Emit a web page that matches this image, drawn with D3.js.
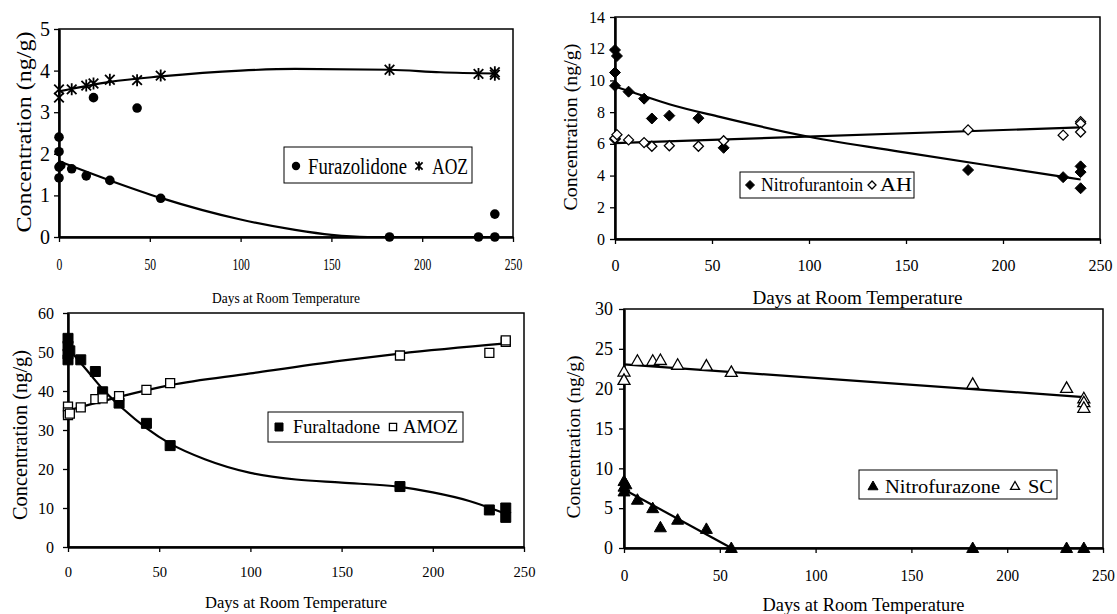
<!DOCTYPE html>
<html>
<head>
<meta charset="utf-8">
<script src="https://cdn.jsdelivr.net/npm/d3@7"></script>
<style>
  body { margin: 0; background: #fff; }
  svg text { font-family: "Liberation Serif", "Times New Roman", serif !important; fill: #000; }
</style>
</head>
<body>
<svg id="chart" width="1117" height="614"></svg>
<script>
const DAY_TICKS = [0, 50, 100, 150, 200, 250];

// panel 1 : furazolidone / AOZ   [day, ng/g]
const furazolidone = [[0,2.4],[0,2.05],[0,1.68],[0,1.42],[1,1.72],[7,1.64],[15,1.47],[19,3.35],[28,1.36],[43,3.1],[56,0.93],[182,0],[231,0],[240,0],[240,0.55]];
const aoz = [[0,3.55],[0,3.35],[7,3.55],[15,3.64],[19,3.69],[28,3.78],[43,3.77],[56,3.88],[182,4.02],[231,3.92],[240,3.96],[240,3.9]];
const furazolidoneFit = [[0,1.82],[28,1.36],[56,0.94],[100,0.42],[130,0.17],[150,0.05],[170,0],[240,0]];
const aozFit = [[0,3.5],[28,3.73],[56,3.86],[100,4.0],[130,4.04],[182,4.02],[210,3.96],[240,3.93]];

// panel 2 : nitrofurantoin / AH
const nitrofurantoin = [[0,11.92],[1,11.54],[0,10.5],[0,9.66],[0,6.3],[7,9.29],[15,8.85],[19,7.6],[28,7.78],[43,7.62],[56,5.75],[182,4.35],[231,3.9],[240,4.58],[240,4.22],[240,3.2]];
const ah = [[0,6.35],[1,6.58],[7,6.25],[15,6.08],[19,5.85],[28,5.88],[43,5.85],[56,6.2],[182,6.88],[231,6.55],[240,7.4],[240,7.28],[240,6.75]];
const nitrofurantoinFit = [[0,9.62],[14,9.05],[28,8.5],[54,7.7],[100,6.45],[150,5.45],[200,4.5],[240,3.75]];
const ahFit = [[0,6.05],[240,7.04]];

// panel 3 : furaltadone / AMOZ
const furaltadone = [[0,53.5],[0,51.5],[0,49.5],[0,48],[1,50.3],[7,48],[15,45],[19,39.8],[28,36.9],[43,31.7],[56,26],[182,15.5],[231,9.5],[240,10],[240,7.6]];
const amoz = [[0,36],[0,34.5],[0,33.8],[1,34.2],[7,35.8],[15,37.9],[19,38.1],[28,38.7],[43,40.3],[56,42],[182,49.1],[231,49.8],[240,52.6],[240,53]];
const furaltadoneFit = [[0,51],[10,45.5],[20,40],[30,35.5],[43,30.5],[56,26.5],[75,22.5],[100,19],[125,17.3],[150,16.5],[182,15.4],[200,14],[220,11.8],[240,8.5]];
const amozFit = [[0,35],[28,38.5],[56,41.5],[100,44.5],[150,47.8],[182,49.6],[240,52.2]];

// panel 4 : nitrofurazone / SC
const nitrofurazone = [[0,8.4],[0,7.7],[0,7.1],[1,8.0],[7,6.06],[15,5.0],[19,2.6],[28,3.55],[43,2.4],[56,0],[182,0],[231,0],[240,0]];
const sc = [[0,22.15],[0,21.1],[7,23.5],[15,23.5],[19,23.6],[28,23.0],[43,22.9],[56,22.1],[182,20.6],[231,20.1],[240,18.8],[240,18.3],[240,17.6]];
const nitrofurazoneFit = [[0,7.35],[56,0]];
const scFit = [[0,23.05],[240,18.95]];

const yTicks1 = [0,1,2,3,4,5];
const yTicks2 = [0,2,4,6,8,10,12,14];
const yTicks3 = [0,10,20,30,40,50,60];
const yTicks4 = [0,5,10,15,20,25,30];

const X_TITLE = "Days at Room Temperature";
const Y_TITLE = "Concentration (ng/g)";
const SERIF = '"Liberation Serif", "Times New Roman", serif';

const panels = [
  { left: 59, right: 513, top: 29, bottom: 237, yMax: 5, yTicks: yTicks1,
    yFont: 20, yPad: 4, xFont: 17, xCharW: 5.8, xLabY: 264,
    titleY: 298, titleFont: 15, titleW: 148, yTitleX: 23, yTitleY: 132, yTitleFont: 22, yTitleLen: 201,
    series: [
      { pts: furazolidone, fit: furazolidoneFit, mark: "circle", filled: true, size: 4.8 },
      { pts: aoz, fit: aozFit, mark: "star", filled: true, size: 6 }
    ],
    legend: { x: 284, y: 147, w: 188, h: 36, font: 22.5, cy: 166,
      items: [ { mark: "circle", filled: true, size: 4.2, mx: 296, label: "Furazolidone", tx: 308, tw: 99 },
               { mark: "star", filled: true, size: 4.5, mx: 419, label: "AOZ", tx: 432, tw: 36 } ] } },
  { left: 615, right: 1100, top: 17, bottom: 239, yMax: 14, yTicks: yTicks2,
    yFont: 16, yPad: 5, xFont: 16, xCharW: 8, xLabY: 265,
    titleY: 298, titleFont: 18, titleW: 210, yTitleX: 570, yTitleY: 127, yTitleFont: 19, yTitleLen: 167,
    series: [
      { pts: nitrofurantoin, fit: nitrofurantoinFit, mark: "diamond", filled: true, size: 5.5 },
      { pts: ah, fit: ahFit, mark: "diamond", filled: false, size: 5 }
    ],
    legend: { x: 740, y: 172, w: 174, h: 26, font: 18, cy: 185,
      items: [ { mark: "diamond", filled: true, size: 4.5, mx: 750, label: "Nitrofurantoin", tx: 761, tw: 102 },
               { mark: "diamond", filled: false, size: 4, mx: 872, label: "AH", tx: 880, tw: 32 } ] } },
  { left: 68, right: 524, top: 313, bottom: 547, yMax: 60, yTicks: yTicks3,
    yFont: 16, yPad: 9, xFont: 15, xCharW: 7.3, xLabY: 572,
    titleY: 602, titleFont: 16.5, titleW: 182, yTitleX: 20, yTitleY: 435, yTitleFont: 20, yTitleLen: 170,
    series: [
      { pts: furaltadone, fit: furaltadoneFit, mark: "square", filled: true, size: 5 },
      { pts: amoz, fit: amozFit, mark: "square", filled: false, size: 4.5 }
    ],
    legend: { x: 268, y: 412, w: 195, h: 30, font: 18, cy: 427,
      items: [ { mark: "square", filled: true, size: 4, mx: 279, label: "Furaltadone", tx: 293, tw: 87 },
               { mark: "square", filled: false, size: 3.6, mx: 393, label: "AMOZ", tx: 403, tw: 55 } ] } },
  { left: 624, right: 1103, top: 309, bottom: 548, yMax: 30, yTicks: yTicks4,
    yFont: 18, yPad: 6, xFont: 16, xCharW: 7.6, xLabY: 575,
    titleY: 605, titleFont: 18, titleW: 202, yTitleX: 573, yTitleY: 437, yTitleFont: 19, yTitleLen: 163,
    series: [
      { pts: nitrofurazone, fit: nitrofurazoneFit, mark: "triangle", filled: true, size: 6 },
      { pts: sc, fit: scFit, mark: "triangle", filled: false, size: 6 }
    ],
    legend: { x: 859, y: 470, w: 198, h: 29, font: 19.5, cy: 486,
      items: [ { mark: "triangle", filled: true, size: 5, mx: 873, label: "Nitrofurazone", tx: 885, tw: 115 },
               { mark: "triangle", filled: false, size: 4.5, mx: 1015, label: "SC", tx: 1028, tw: 25 } ] } }
];

const svg = d3.select("#chart");

// marker shapes drawn around (0,0)
function markerPath(type, s) {
  switch (type) {
    case "diamond":
      return `M0,${-s}L${s},0L0,${s}L${-s},0Z`;
    case "square":
      return `M${-s},${-s}H${s}V${s}H${-s}Z`;
    case "triangle":
      return `M0,${-s}L${s},${s * 0.75}L${-s},${s * 0.75}Z`;
    case "star": {
      const d = s * 0.8;
      return `M0,${-s}V${s}M${-d},${-d}L${d},${d}M${-d},${d}L${d},${-d}`;
    }
  }
}

function drawMarker(g, m, cx, cy) {
  if (m.mark === "circle") {
    g.append("circle").attr("cx", cx).attr("cy", cy).attr("r", m.size).attr("fill", "#000");
    return;
  }
  const p = g.append("path")
    .attr("d", markerPath(m.mark, m.size))
    .attr("transform", `translate(${cx},${cy})`);
  if (m.mark === "star") {
    p.attr("fill", "none").attr("stroke", "#000").attr("stroke-width", 1.8);
  } else {
    p.attr("fill", m.filled ? "#000" : "#fff").attr("stroke", "#000").attr("stroke-width", m.filled ? 1 : 1.3);
  }
}

function drawPanel(p) {
  const g = svg.append("g");
  const x = d3.scaleLinear().domain([0, 250]).range([p.left, p.right]);
  const y = d3.scaleLinear().domain([0, p.yMax]).range([p.bottom, p.top]);

  // plot frame
  g.append("rect")
    .attr("x", p.left).attr("y", p.top)
    .attr("width", p.right - p.left).attr("height", p.bottom - p.top)
    .attr("fill", "none").attr("stroke", "#000").attr("stroke-width", 1.5);

  // x axis
  const xa = g.append("g")
    .attr("transform", `translate(0,${p.bottom})`)
    .call(d3.axisBottom(x).tickValues(DAY_TICKS).tickSize(5).tickSizeOuter(0).tickFormat(d3.format("d")))
    .attr("font-family", SERIF);
  xa.select(".domain").attr("stroke-width", 2.5);
  xa.selectAll(".tick line").attr("stroke-width", 1.3);
  xa.selectAll("text")
    .attr("y", p.xLabY - p.bottom).attr("dy", "0.35em")
    .style("font-family", SERIF)
    .style("font-size", p.xFont + "px")
    .attr("textLength", d => String(d).length * p.xCharW)
    .attr("lengthAdjust", "spacingAndGlyphs");

  // y axis
  const ya = g.append("g")
    .attr("transform", `translate(${p.left},0)`)
    .call(d3.axisLeft(y).tickValues(p.yTicks).tickSize(5).tickSizeOuter(0).tickPadding(p.yPad).tickFormat(d3.format("d")))
    .attr("font-family", SERIF);
  ya.select(".domain").attr("stroke-width", 2.5);
  ya.selectAll(".tick line").attr("stroke-width", 1.3);
  ya.selectAll("text").style("font-family", SERIF).style("font-size", p.yFont + "px");

  // axis titles
  g.append("text")
    .attr("x", (p.left + p.right) / 2).attr("y", p.titleY)
    .attr("text-anchor", "middle").attr("dominant-baseline", "central")
    .style("font-size", p.titleFont + "px")
    .attr("textLength", p.titleW).attr("lengthAdjust", "spacingAndGlyphs")
    .text(X_TITLE);
  g.append("text")
    .attr("transform", `translate(${p.yTitleX},${p.yTitleY}) rotate(-90)`)
    .attr("text-anchor", "middle").attr("dominant-baseline", "central")
    .style("font-size", p.yTitleFont + "px")
    .attr("textLength", p.yTitleLen).attr("lengthAdjust", "spacingAndGlyphs")
    .text(Y_TITLE);

  // fitted lines
  const line = d3.line().x(d => x(d[0])).y(d => y(d[1])).curve(d3.curveMonotoneX);
  p.series.forEach(s => {
    g.append("path").attr("d", line(s.fit))
      .attr("fill", "none").attr("stroke", "#000").attr("stroke-width", 2.2);
  });

  // data markers
  p.series.forEach(s => {
    s.pts.forEach(d => drawMarker(g, s, x(d[0]), y(d[1])));
  });

  // legend box
  const L = p.legend;
  const lg = g.append("g");
  lg.append("rect").attr("x", L.x).attr("y", L.y).attr("width", L.w).attr("height", L.h)
    .attr("fill", "#fff").attr("stroke", "#000").attr("stroke-width", 1);
  L.items.forEach(it => {
    drawMarker(lg, it, it.mx, L.cy);
    lg.append("text")
      .attr("x", it.tx).attr("y", L.cy)
      .attr("dominant-baseline", "central")
      .style("font-size", L.font + "px")
      .attr("textLength", it.tw).attr("lengthAdjust", "spacingAndGlyphs")
      .text(it.label);
  });
}

panels.forEach(drawPanel);
</script>
</body>
</html>
